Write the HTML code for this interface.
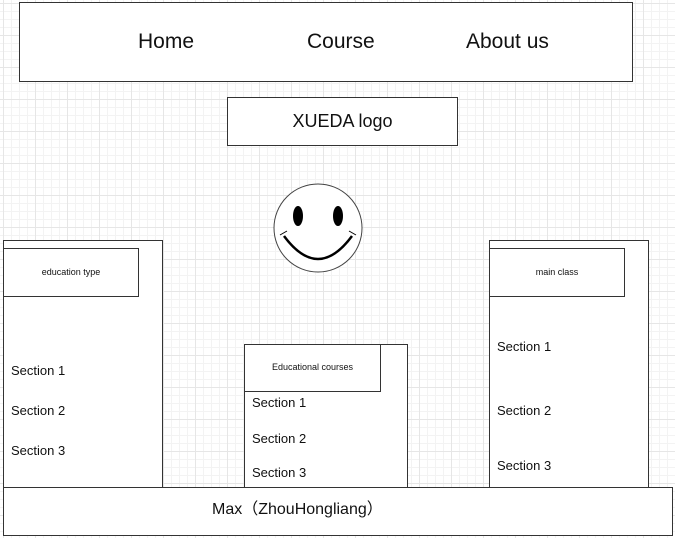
<!DOCTYPE html>
<html><head><style>
body{margin:0;width:675px;height:538px;position:relative;overflow:hidden;font-family:"Liberation Sans",sans-serif;color:#111;
background-color:#fff;
background-image:linear-gradient(#e6e6e6 1px,transparent 1px),linear-gradient(90deg,#e6e6e6 1px,transparent 1px),linear-gradient(#f3f3f3 1px,transparent 1px),linear-gradient(90deg,#f3f3f3 1px,transparent 1px);
background-size:32px 32px,32px 32px,8px 8px,8px 8px;background-position:3px 3px,3px 3px,3px 3px,3px 3px;}
.b{position:absolute;border:1px solid #333;background:#fff;box-sizing:border-box}
.t{position:absolute;white-space:nowrap}
.s{position:absolute;font-size:13px}
</style></head><body>
<div class="b" style="left:19px;top:2px;width:614px;height:80px"></div>
<div class="t" style="left:138px;top:30px;font-size:21px">Home</div>
<div class="t" style="left:307px;top:30px;font-size:21px">Course</div>
<div class="t" style="left:466px;top:30px;font-size:21px">About us</div>
<div class="b" style="left:227px;top:97px;width:231px;height:49px"></div>
<div class="t" style="left:227px;width:231px;text-align:center;top:111px;font-size:18px">XUEDA logo</div>
<svg style="position:absolute;left:0;top:0" width="675" height="538">
<circle cx="318" cy="228" r="44" fill="#fff" stroke="#444" stroke-width="1"/>
<ellipse cx="298" cy="216" rx="5" ry="10" fill="#000"/>
<ellipse cx="338" cy="216" rx="5" ry="10" fill="#000"/>
<path d="M284 236 Q318 282 352 236" fill="none" stroke="#000" stroke-width="2.5"/>
<path d="M280 235 L287 231 M356 235 L349 231" stroke="#000" stroke-width="1"/>
</svg>
<div class="b" style="left:3px;top:240px;width:160px;height:250px"></div>
<div class="b" style="left:3px;top:248px;width:136px;height:49px"></div>
<div class="t" style="left:3px;width:136px;text-align:center;top:267px;font-size:9px">education type</div>
<div class="s" style="left:11px;top:363px">Section 1</div>
<div class="s" style="left:11px;top:403px">Section 2</div>
<div class="s" style="left:11px;top:443px">Section 3</div>
<div class="b" style="left:244px;top:344px;width:164px;height:146px"></div>
<div class="b" style="left:244px;top:344px;width:137px;height:48px"></div>
<div class="t" style="left:244px;width:137px;text-align:center;top:362px;font-size:9px">Educational courses</div>
<div class="s" style="left:252px;top:395px">Section 1</div>
<div class="s" style="left:252px;top:431px">Section 2</div>
<div class="s" style="left:252px;top:465px">Section 3</div>
<div class="b" style="left:489px;top:240px;width:160px;height:250px"></div>
<div class="b" style="left:489px;top:248px;width:136px;height:49px"></div>
<div class="t" style="left:489px;width:136px;text-align:center;top:267px;font-size:9px">main class</div>
<div class="s" style="left:497px;top:339px">Section 1</div>
<div class="s" style="left:497px;top:403px">Section 2</div>
<div class="s" style="left:497px;top:458px">Section 3</div>
<div class="b" style="left:3px;top:487px;width:670px;height:49px"></div>
<div class="t" style="left:212px;top:500px;font-size:16px;line-height:20px;font-family:'Liberation Sans','Noto Sans CJK SC',sans-serif">Max（ZhouHongliang）</div>
</body></html>
